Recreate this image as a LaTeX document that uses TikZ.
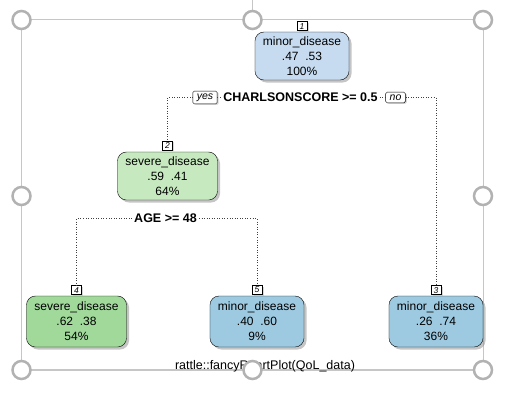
\documentclass[tikz,border=0pt]{standalone}
\usepackage{fontspec}
\setmainfont{Liberation Sans}
\usepackage{xcolor}
\usepackage{tikz}
\usetikzlibrary{shadows,positioning}
\definecolor{rootblue}{HTML}{C6DBEF}
\definecolor{leafblue}{HTML}{9ECAE1}
\definecolor{palegreen}{HTML}{C7E9C0}
\definecolor{leafgreen}{HTML}{A1D99B}
\begin{document}
\begin{tikzpicture}[x=1pt,y=-1pt,
  tnode/.style={draw, rounded corners=9pt, align=center, inner xsep=8pt,
    minimum width=92pt, minimum height=48pt,
    font=\fontsize{12}{15}\selectfont,
    drop shadow={shadow xshift=2.5pt,shadow yshift=-2.5pt,fill=black!45}},
  leaf/.style={tnode, minimum height=51pt},
  numlab/.style={draw, fill=white, inner sep=0.8pt, minimum width=10pt, minimum height=9pt,
    font=\fontsize{8.5}{8.5}\selectfont\itshape,
    drop shadow={shadow xshift=1.5pt,shadow yshift=-1pt,fill=black!30}},
  ynlab/.style={draw, fill=white, rounded corners=1.5pt, inner xsep=4pt, inner ysep=2.5pt,
    font=\fontsize{10.5}{10.5}\selectfont\itshape,
    drop shadow={shadow xshift=1.5pt,shadow yshift=-1pt,fill=black!30}},
  splitlab/.style={font=\fontsize{12.5}{14}\selectfont\bfseries, inner sep=2pt},
  conn/.style={dotted, line width=0.55pt, black!75},
  handle/.style={circle, draw=gray!60, line width=2.5pt, fill=white,
    minimum size=18pt, inner sep=0pt}]
  \useasboundingbox (0,0) rectangle (520,405);
  % selection frame
  \draw[gray!45, line width=1.5pt] (21.5,19.5) rectangle (483.5,370);
  \draw[gray!45, line width=1.5pt] (252.5,0) -- (252.5,19.5);
  \node[font=\fontsize{12.5}{14}\selectfont] (cap) at (265,366.5) {rattle::fancyRpartPlot(QoL\_data)};
  % tree nodes
  \node[tnode, fill=rootblue] (n1) at (302,56) {minor\_disease\\.47\ \ .53\\100\%};
  \node[tnode, fill=palegreen] (n2) at (167.5,176) {severe\_disease\\.59\ \ .41\\64\%};
  \node[leaf, fill=leafgreen] (n4) at (76.5,321.5) {severe\_disease\\.62\ \ .38\\54\%};
  \node[leaf, fill=leafblue] (n5) at (257,321.5) {minor\_disease\\.40\ \ .60\\9\%};
  \node[leaf, fill=leafblue] (n3) at (436,321.5) {minor\_disease\\.26\ \ .74\\36\%};
  \node[numlab, above=1pt of n1] (n1lab) {1};
  \node[numlab, above=1.5pt of n2] (n2lab) {2};
  \node[numlab, above=1pt of n4] (n4lab) {4};
  \node[numlab, above=1pt of n5] (n5lab) {5};
  \node[numlab, above=1pt of n3] (n3lab) {3};
  % splits
  \node[splitlab] (split1) at (300.5,97.5) {CHARLSONSCORE >= 0.5};
  \node[ynlab] (yes) at (205,97.5) {yes};
  \node[ynlab] (no) at (395.5,97.5) {no};
  \node[splitlab] (split2) at (165.5,218.5) {AGE >= 48};
  \draw[conn] (yes.west) -| (n2lab.north);
  \draw[conn] (yes.east) -- (split1.west);
  \draw[conn] (split1.east) -- (no.west);
  \draw[conn] (no.east) -| (n3lab.north);
  \draw[conn] (split2.west) -| (n4lab.north);
  \draw[conn] (split2.east) -| (n5lab.north);
  % handles
  \foreach \p [count=\i] in {{21.5,20},{252.5,20},{483,20},{21.5,196},{483,196},{21.5,370},{252.5,370},{483,370}}
    \node[handle] (h\i) at (\p) {};
\end{tikzpicture}
\end{document}
